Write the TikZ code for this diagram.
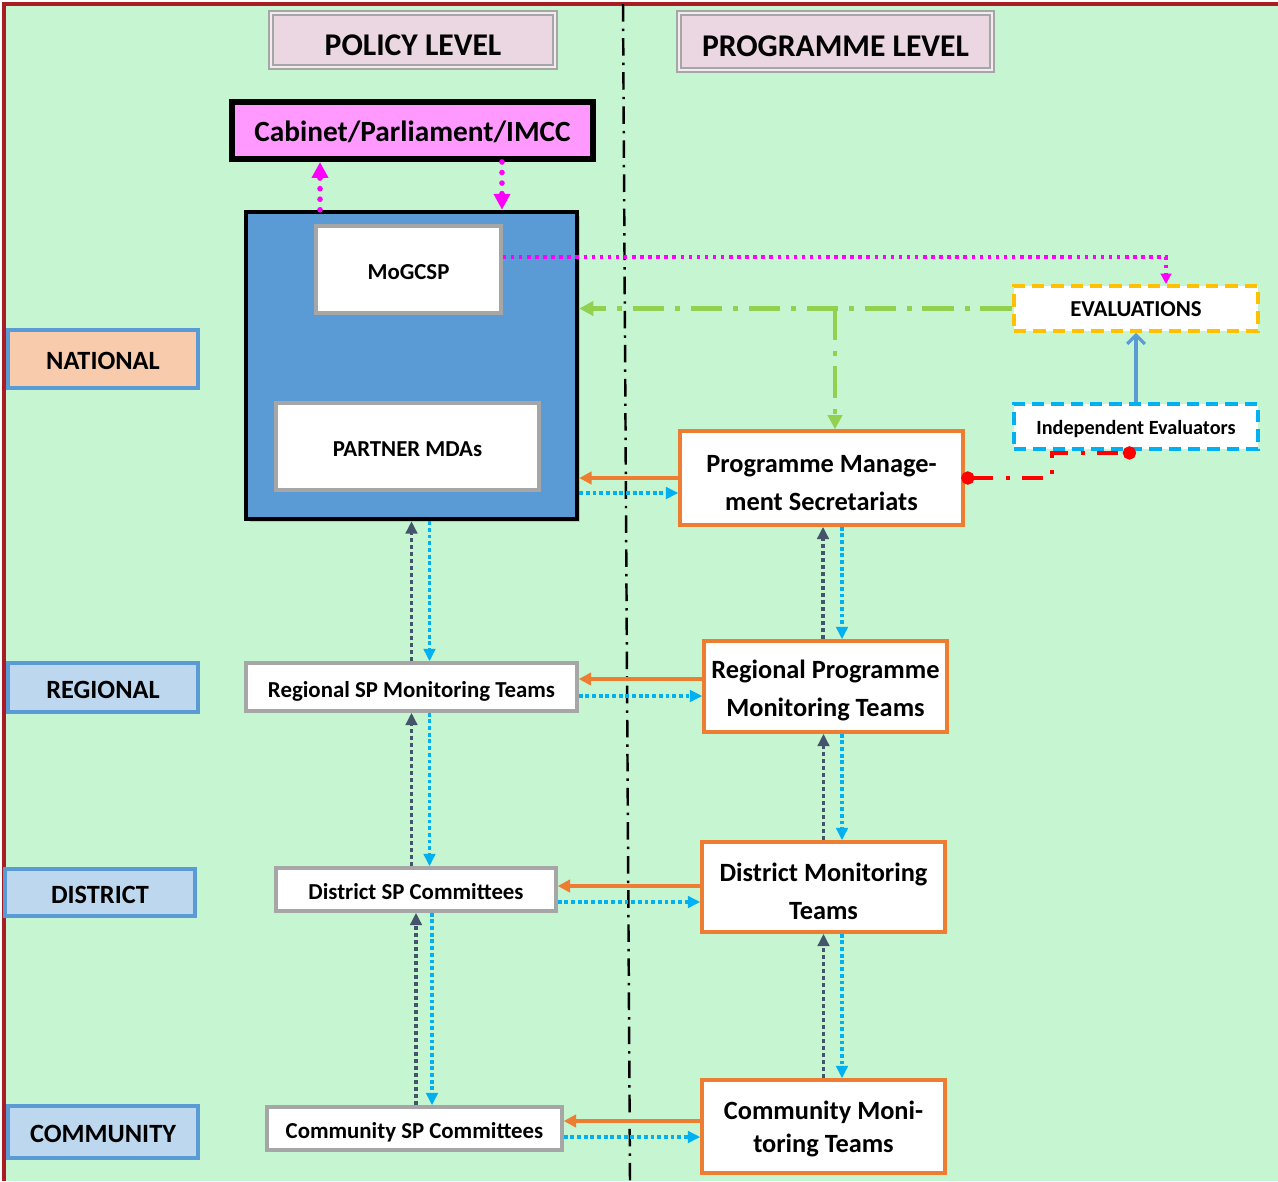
\documentclass[tikz,border=0pt]{standalone}
\usepackage{fontspec}
\setmainfont{Carlito}
\usetikzlibrary{arrows.meta,shadows}

\definecolor{bggreen}{HTML}{C6F5D1}
\definecolor{framered}{HTML}{A81C24}
\definecolor{headpink}{HTML}{EAD7E1}
\definecolor{headgrey}{HTML}{A6A6A6}
\definecolor{cabpink}{HTML}{FF99FF}
\definecolor{blockblue}{HTML}{5B9BD5}
\definecolor{peach}{HTML}{F8CBAD}
\definecolor{paleblue}{HTML}{BDD7EE}
\definecolor{progorange}{HTML}{ED7D31}
\definecolor{evalyellow}{HTML}{FFC000}
\definecolor{sky}{HTML}{00B0F0}
\definecolor{slate}{HTML}{44546A}
\definecolor{evgreen}{HTML}{92D050}
\definecolor{linkmag}{HTML}{FF00FF}
\definecolor{linkred}{HTML}{FF0000}

\begin{document}
\begin{tikzpicture}[x=0.02cm, y=-0.02cm, font=\bfseries,
	sz/.style 2 args={minimum width=#1cm, minimum height=#2cm},
	lowtext/.style 2 args={text height=#1pt, text depth=#2pt},
	headbox/.style={draw=headgrey, line width=1.1pt, double=headpink!50!white, double distance=1.3pt, fill=headpink, lowtext={20.8}{3.6}, font=\fontsize{18}{20}\selectfont\bfseries},
	lvlbox/.style={draw=blockblue, line width=2pt, lowtext={15.4}{3}, font=\fontsize{15}{17}\selectfont\bfseries},
	greybox/.style={draw=headgrey, line width=2pt, fill=white, lowtext={14.4}{2.6}, font=\fontsize{13}{15}\selectfont\bfseries},
	progbox/.style={draw=progorange, line width=2pt, fill=white, align=center, font=\fontsize{15}{21.5}\selectfont\bfseries},
	evbox/.style={draw=#1, line width=2.2pt, dash pattern=on 7pt off 4pt, fill=white, lowtext={12}{2.6}},
	darkdot/.style={draw=slate, line width=2.2pt, dash pattern=on 2.2pt off 1.8pt, -{Triangle[length=7pt,width=6.5pt]}},
	skydot/.style={draw=sky, line width=2.2pt, dash pattern=on 2.2pt off 1.6pt, -{Triangle[length=7pt,width=6.5pt]}},
	orangeln/.style={draw=progorange, line width=2pt, -{Triangle[length=7pt,width=7pt]}},
	magdot/.style={draw=linkmag, line width=3.2pt, line cap=round, dash pattern=on 0pt off 6pt, -{Triangle[length=9pt,width=9pt]}},
	magfine/.style={draw=linkmag, line width=2pt, dash pattern=on 2pt off 2.6pt, -{Triangle[length=6pt,width=6pt]}},
	greenln/.style={draw=evgreen, line width=2.8pt, dash pattern=on 18pt off 6pt on 3pt off 6pt, -{Triangle[length=8pt,width=8pt]}},
	redln/.style={draw=linkred, line width=2.6pt, dash pattern=on 12pt off 7pt on 2.5pt off 7pt, {Circle[length=7.5pt]}-{Circle[length=7.5pt]}},
]
	\useasboundingbox (0,0) rectangle (1278,1181);
	\fill[bggreen] (4,4) rectangle (1278,1181);
	\draw[framered, line width=2.8pt] (4,1181) -- (4,4) -- (1278,4);
	\draw[line width=1.4pt, dash pattern=on 10pt off 4pt on 1.4pt off 4pt] (623,4) -- (630,1181);

	% headings and levels
	\node[headbox, sz={5.68}{1.08}] (policy) at (413,40) {POLICY LEVEL};
	\node[headbox, sz={6.26}{1.14}] (prog) at (835.5,41.5) {PROGRAMME LEVEL};
	\node[lvlbox, fill=peach, sz={3.8}{1.16}] (nat) at (103,359) {NATIONAL};
	\node[lvlbox, fill=paleblue, sz={3.8}{.98}] (reg) at (103,687.5) {REGIONAL};
	\node[lvlbox, fill=paleblue, sz={3.8}{.94}] (dis) at (100,892.5) {DISTRICT};
	\node[lvlbox, fill=paleblue, sz={3.8}{1.04}] (com) at (103,1132) {COMMUNITY};

	% policy side
	\node[draw, line width=3.4pt, fill=cabpink, sz={7.22}{1.14}, lowtext={16.3}{3.3}, font=\fontsize{16.7}{19}\selectfont\bfseries] (cab) at (412.5,130.5) {Cabinet/Parliament/IMCC};
	\node[draw, line width=2.6pt, fill=blockblue, sz={6.62}{6.14}, drop shadow={shadow xshift=2pt, shadow yshift=-2pt, opacity=.35}] (mdablock) at (411.5,365.5) {};
	\node[greybox, sz={3.7}{1.74}] (mog) at (408.5,269.5) {MoGCSP};
	\node[greybox, sz={5.26}{1.74}] (mdas) at (407.5,446.5) {PARTNER MDAs};
	\node[greybox, sz={6.62}{.96}] (regsp) at (411.5,687) {Regional SP Monitoring Teams};
	\node[greybox, sz={5.6}{.86}] (dissp) at (416,889.5) {District SP Committees};
	\node[greybox, sz={5.9}{.86}] (comsp) at (414.5,1128.5) {Community SP Committees};

	% programme side
	\node[evbox=evalyellow, sz={4.88}{.9}, font=\fontsize{13}{15}\selectfont\bfseries] (eval) at (1136,308.5) {EVALUATIONS};
	\node[evbox=sky, sz={4.88}{.9}, font=\fontsize{11.5}{13}\selectfont\bfseries] (indep) at (1136,426.5) {Independent Evaluators};
	\node[progbox, sz={5.66}{1.88}] (pms) at (821.5,478) {\strut Programme Manage-\\ment Secretariats};
	\node[progbox, sz={4.86}{1.82}] (rpmt) at (825.5,686.5) {\strut Regional Programme\\Monitoring Teams};
	\node[progbox, sz={4.86}{1.8}] (dmt) at (823.5,887) {\strut District Monitoring\\Teams};
	\node[progbox, sz={4.86}{1.86}, font=\fontsize{15}{18.7}\selectfont\bfseries] (cmt) at (823.5,1126.5) {\strut Community Moni-\\toring Teams};

	% cabinet links
	\draw[magdot] ([xshift=-1.83cm]mdablock.north) -- ([xshift=-1.83cm]mdablock.north |- cab.south);
	\draw[magdot] ([xshift=1.81cm]mdablock.north |- cab.south) -- ([xshift=1.81cm]mdablock.north);

	% evaluation links
	\draw[magfine] ([yshift=.25cm]mog.east) -| ([xshift=.6cm]eval.north);
	\draw[greenln] (eval.west) -- (eval.west -| mdablock.east);
	\draw[greenln, line width=2.2pt] ([xshift=.27cm]pms.north |- eval.west) -- ([xshift=.27cm]pms.north);
	\draw[draw=blockblue, line width=1.8pt, -{Straight Barb[length=5pt,width=10pt]}] (indep.north) -- (eval.south);
	\draw[redln] ([xshift=-2pt]pms.east) -| ([xshift=-1.68cm, yshift=-.04cm]indep.south) -- ([yshift=-.04cm]indep.south);

	% policy column
	\draw[darkdot] (regsp.north) -- (regsp.north |- mdablock.south);
	\draw[skydot] ([xshift=.36cm]regsp.north |- mdablock.south) -- ([xshift=.36cm]regsp.north);
	\draw[darkdot] (dissp.north -| regsp.south) -- (regsp.south);
	\draw[skydot] ([xshift=.36cm]regsp.south) -- ([xshift=.36cm]regsp.south |- dissp.north);
	\draw[darkdot] (comsp.north -| dissp.south) -- (dissp.south);
	\draw[skydot] ([xshift=.32cm]dissp.south) -- ([xshift=.32cm]dissp.south |- comsp.north);

	% programme column
	\draw[darkdot] ([xshift=-.05cm]rpmt.north) -- ([xshift=-.05cm]rpmt.north |- pms.south);
	\draw[skydot] ([xshift=.33cm]rpmt.north |- pms.south) -- ([xshift=.33cm]rpmt.north);
	\draw[darkdot] (dmt.north) -- (dmt.north |- rpmt.south);
	\draw[skydot] ([xshift=.37cm]dmt.north |- rpmt.south) -- ([xshift=.37cm]dmt.north);
	\draw[darkdot] (cmt.north) -- (cmt.north |- dmt.south);
	\draw[skydot] ([xshift=.37cm]cmt.north |- dmt.south) -- ([xshift=.37cm]cmt.north);

	% across the levels
	\draw[orangeln] (pms.west) -- (pms.west -| mdablock.east);
	\draw[skydot] ([yshift=-.3cm]pms.west -| mdablock.east) -- ([yshift=-.3cm]pms.west);
	\draw[orangeln] ([yshift=.15cm]rpmt.west) -- ([yshift=.15cm]rpmt.west -| regsp.east);
	\draw[skydot] ([yshift=-.19cm]rpmt.west -| regsp.east) -- ([yshift=-.19cm]rpmt.west);
	\draw[orangeln] ([yshift=.02cm]dmt.west) -- ([yshift=.02cm]dmt.west -| dissp.east);
	\draw[skydot] ([yshift=-.3cm]dmt.west -| dissp.east) -- ([yshift=-.3cm]dmt.west);
	\draw[orangeln] ([yshift=.11cm]cmt.west) -- ([yshift=.11cm]cmt.west -| comsp.east);
	\draw[skydot] ([yshift=-.21cm]cmt.west -| comsp.east) -- ([yshift=-.21cm]cmt.west);
\end{tikzpicture}
\end{document}
